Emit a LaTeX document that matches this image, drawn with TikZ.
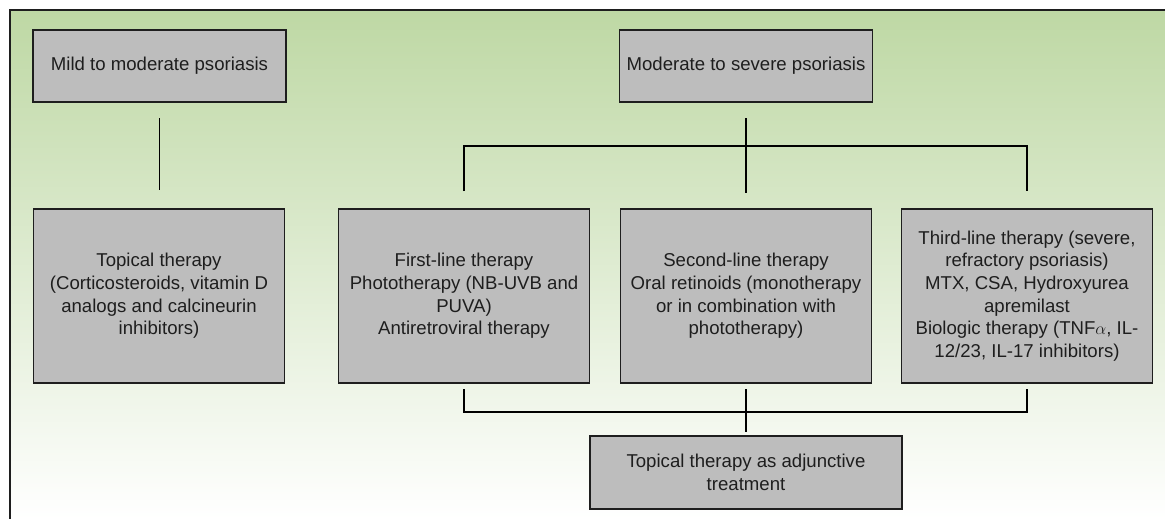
\documentclass[tikz,border=0pt]{standalone}
\usepackage{fontspec}
\setmainfont{Liberation Sans}
\usepackage{xcolor}
\usetikzlibrary{positioning}

\definecolor{leafgreen}{RGB}{190,216,164}
\definecolor{boxgray}{RGB}{189,189,189}
\definecolor{inkgray}{RGB}{30,30,30}

\begin{document}
\begin{tikzpicture}[
    x=1pt, y=-1pt,
    headbox/.style={rectangle, draw=inkgray, line width=1.4pt, fill=boxgray, text=inkgray, align=center,
        minimum width=253pt, minimum height=72pt, inner sep=4pt, outer sep=0pt,
        font=\fontsize{18.6}{22.6}\selectfont},
    therapybox/.style={headbox, minimum width=251pt, minimum height=174pt},
    link/.style={draw=black, line width=1.4pt}
]
    % frame and background
    \useasboundingbox (0,0) rectangle (1165,519);
    \shade[top color=leafgreen, bottom color=white] (10,10) rectangle (1165,519);
    \draw[line width=1.6pt, inkgray] (10,519) -- (10,10) -- (1165,10);

    \node[headbox] (mild) at (159.5,66) {Mild to moderate psoriasis};
    \node[headbox] (moderate) at (746,66) {Moderate to severe psoriasis};

    \node[therapybox] (topical) at (159,296) {Topical therapy\\(Corticosteroids, vitamin D\\analogs and calcineurin\\inhibitors)};
    \node[therapybox, right=54pt of topical] (first) {First-line therapy\\Phototherapy (NB-UVB and\\PUVA)\\Antiretroviral therapy};
    \node[therapybox, right=31pt of first] (second) {Second-line therapy\\Oral retinoids (monotherapy\\or in combination with\\phototherapy)};
    \node[therapybox, right=30pt of second] (third) {Third-line therapy (severe,\\refractory psoriasis)\\MTX, CSA, Hydroxyurea\\apremilast\\Biologic therapy (TNF$\alpha$, IL-\\12/23, IL-17 inhibitors)};

    \node[headbox, minimum width=312pt, minimum height=73pt] (adjunct) at (746,472.5) {Topical therapy as adjunctive\\treatment};

    % tree joints
    \coordinate (mildend) at (mild.south |- topical.north);
    \coordinate (modend) at (moderate.south |- second.north);
    \coordinate (bus) at ([yshift=-44pt]moderate.south);
    \coordinate (join) at ([yshift=-29pt]second.south -| adjunct.north);
    \coordinate (adjtop) at (adjunct.north |- second.south);

    \draw[link] ([yshift=-16pt]mild.south) -- ([yshift=19pt]mildend);
    \draw[link] ([yshift=-16pt]moderate.south) -- ([yshift=16pt]modend);
    \draw[link] ([yshift=18pt]first.north) |- (bus) -| ([yshift=18pt]third.north);
    \draw[link] ([yshift=-6pt]first.south) |- (join) -| ([yshift=-6pt]third.south);
    \draw[link] ([yshift=-6pt]adjtop) -- ([yshift=4pt]adjunct.north);
\end{tikzpicture}
\end{document}
